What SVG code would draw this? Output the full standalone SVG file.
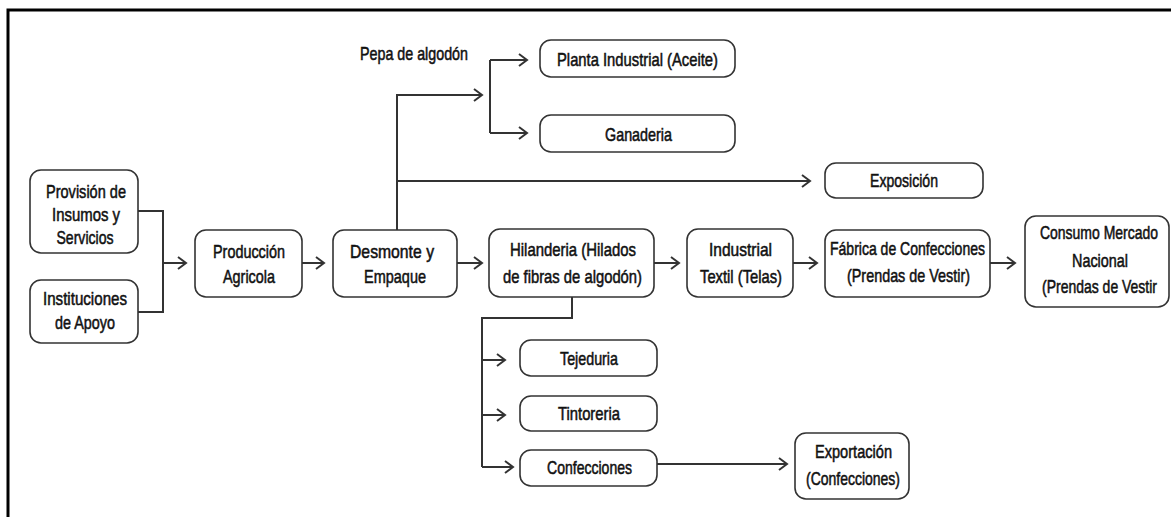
<svg xmlns="http://www.w3.org/2000/svg" width="1171" height="517" viewBox="0 0 1171 517">
<style>
.bg{fill:#ffffff}
.frame{stroke:#000;stroke-width:3;fill:none}
.box{fill:#fff;stroke:#333;stroke-width:1.6}
.t{font-family:"Liberation Sans",Arial,sans-serif;font-size:19px;fill:#111;stroke:#111;stroke-width:0.55;text-anchor:middle}
.c{fill:none;stroke:#333;stroke-width:2}
</style>
<defs>
<marker id="arr" markerUnits="userSpaceOnUse" markerWidth="12" markerHeight="16" refX="10" refY="7" orient="auto">
<path d="M2,1 L10,7 L2,13" fill="none" stroke="#333" stroke-width="2"/>
</marker>
</defs>
<rect class="bg" x="0" y="0" width="1171" height="517"/>
<path class="frame" d="M8,517 L8,10 L1171,10"/>

<g id="connectors">
<path class="c" d="M138,211 H163 V312 H138"/>
<path class="c" d="M163,263 H186" marker-end="url(#arr)"/>
<path class="c" d="M302,263 H324" marker-end="url(#arr)"/>
<path class="c" d="M457,263 H482" marker-end="url(#arr)"/>
<path class="c" d="M654,263 H679" marker-end="url(#arr)"/>
<path class="c" d="M793,263 H817" marker-end="url(#arr)"/>
<path class="c" d="M990,263 H1015" marker-end="url(#arr)"/>
<path class="c" d="M397,230 V95 H482" marker-end="url(#arr)"/>
<path class="c" d="M397,181 H810" marker-end="url(#arr)"/>
<path class="c" d="M490,60 V133"/>
<path class="c" d="M490,60 H527" marker-end="url(#arr)"/>
<path class="c" d="M490,133 H527" marker-end="url(#arr)"/>
<path class="c" d="M572,297 V318 H482 V467"/>
<path class="c" d="M482,360 H505" marker-end="url(#arr)"/>
<path class="c" d="M482,415 H505" marker-end="url(#arr)"/>
<path class="c" d="M482,467 H513" marker-end="url(#arr)"/>
<path class="c" d="M657,464 H787" marker-end="url(#arr)"/>
</g>

<text id="label-pepa" class="t" x="414" y="60" textLength="108" lengthAdjust="spacingAndGlyphs">Pepa de algodón</text>

<g id="prov"><rect class="box" x="30" y="170" width="108" height="83" rx="11"/>
<text class="t" x="86" y="198" textLength="80" lengthAdjust="spacingAndGlyphs">Provisión de</text><text class="t" x="86" y="221" textLength="68" lengthAdjust="spacingAndGlyphs">Insumos y</text><text class="t" x="85" y="244" textLength="57" lengthAdjust="spacingAndGlyphs">Servicios</text></g>
<g id="inst"><rect class="box" x="30" y="280" width="108" height="63" rx="11"/>
<text class="t" x="85" y="305" textLength="84" lengthAdjust="spacingAndGlyphs">Instituciones</text><text class="t" x="85" y="329" textLength="60" lengthAdjust="spacingAndGlyphs">de Apoyo</text></g>
<g id="prod"><rect class="box" x="195" y="230" width="107" height="67" rx="11"/>
<text class="t" x="249" y="258" textLength="72" lengthAdjust="spacingAndGlyphs">Producción</text><text class="t" x="249" y="283" textLength="52" lengthAdjust="spacingAndGlyphs">Agricola</text></g>
<g id="desm"><rect class="box" x="333" y="230" width="124" height="67" rx="11"/>
<text class="t" x="392" y="258" textLength="84" lengthAdjust="spacingAndGlyphs">Desmonte y</text><text class="t" x="395" y="283" textLength="62" lengthAdjust="spacingAndGlyphs">Empaque</text></g>
<g id="hila"><rect class="box" x="489" y="229" width="165" height="68" rx="11"/>
<text class="t" x="573" y="256" textLength="126" lengthAdjust="spacingAndGlyphs">Hilanderia (Hilados</text><text class="t" x="572.5" y="283" textLength="139" lengthAdjust="spacingAndGlyphs">de fibras de algodón)</text></g>
<g id="indu"><rect class="box" x="687" y="229" width="106" height="68" rx="11"/>
<text class="t" x="740.5" y="256" textLength="63" lengthAdjust="spacingAndGlyphs">Industrial</text><text class="t" x="741" y="283" textLength="82" lengthAdjust="spacingAndGlyphs">Textil (Telas)</text></g>
<g id="fabr"><rect class="box" x="825" y="230" width="165" height="67" rx="11"/>
<text class="t" x="907.5" y="255" textLength="155" lengthAdjust="spacingAndGlyphs">Fábrica de Confecciones</text><text class="t" x="908.5" y="282" textLength="123" lengthAdjust="spacingAndGlyphs">(Prendas de Vestir)</text></g>
<g id="cons"><rect class="box" x="1025" y="216" width="144" height="91" rx="11"/>
<text class="t" x="1099" y="239" textLength="118" lengthAdjust="spacingAndGlyphs">Consumo Mercado</text><text class="t" x="1100" y="267" textLength="56" lengthAdjust="spacingAndGlyphs">Nacional</text><text class="t" x="1099.5" y="293" textLength="115" lengthAdjust="spacingAndGlyphs">(Prendas de Vestir</text></g>
<g id="plan"><rect class="box" x="540" y="40" width="195" height="37" rx="11"/>
<text class="t" x="637.5" y="66" textLength="161" lengthAdjust="spacingAndGlyphs">Planta Industrial (Aceite)</text></g>
<g id="gana"><rect class="box" x="540" y="115" width="195" height="37" rx="11"/>
<text class="t" x="638.5" y="141" textLength="67" lengthAdjust="spacingAndGlyphs">Ganaderia</text></g>
<g id="expo"><rect class="box" x="825" y="163" width="158" height="35" rx="11"/>
<text class="t" x="904" y="187" textLength="68" lengthAdjust="spacingAndGlyphs">Exposición</text></g>
<g id="teje"><rect class="box" x="520" y="340" width="137" height="36" rx="11"/>
<text class="t" x="589" y="365" textLength="58" lengthAdjust="spacingAndGlyphs">Tejeduria</text></g>
<g id="tint"><rect class="box" x="520" y="396" width="137" height="35" rx="11"/>
<text class="t" x="589" y="420" textLength="62" lengthAdjust="spacingAndGlyphs">Tintoreria</text></g>
<g id="conf"><rect class="box" x="520" y="450" width="137" height="36" rx="11"/>
<text class="t" x="589.5" y="474" textLength="85" lengthAdjust="spacingAndGlyphs">Confecciones</text></g>
<g id="expt"><rect class="box" x="795" y="433" width="114" height="66" rx="11"/>
<text class="t" x="853.5" y="458" textLength="77" lengthAdjust="spacingAndGlyphs">Exportación</text><text class="t" x="853" y="485" textLength="94" lengthAdjust="spacingAndGlyphs">(Confecciones)</text></g>
</svg>
